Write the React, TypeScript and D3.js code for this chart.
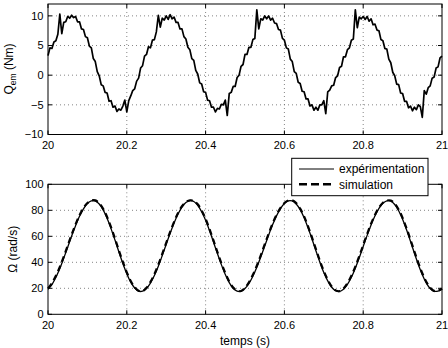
import React from 'react';
import * as d3 from 'd3';

// Sampled signals (time origin 20 s)
const T_START = 20;
const T_END = 21;

// Electromagnetic torque, measured, sampled every 5 ms
const QEM_STEP = 0.005;
const qemMeasured = [
  3.3, 4.6, 4.5, 5.6, 5.8, 6.9, 10.3, 7.0, 8.9, 9.0,
  9.9, 9.6, 10.1, 9.7, 9.9, 9.0, 9.0, 7.8, 7.7, 6.5,
  6.3, 4.9, 4.6, 2.8, 2.3, 0.6, -0.1, -1.6, -1.8, -2.9,
  -3.0, -4.4, -4.3, -5.4, -5.2, -6.1, -5.7, -5.9, -5.2, -4.2,
  -6.2, -4.3, -3.5, -2.6, -2.3, -1.0, -0.5, 1.2, 1.6, 3.2,
  3.5, 4.8, 4.6, 5.9, 6.0, 7.3, 10.1, 8.1, 9.6, 9.3,
  10.0, 9.4, 10.2, 9.5, 9.8, 8.9, 8.9, 7.8, 7.8, 6.5,
  6.1, 4.7, 4.3, 2.8, 2.5, 0.8, 0.2, -1.3, -1.5, -2.8,
  -2.9, -4.2, -4.3, -5.4, -5.4, -6.2, -5.6, -5.7, -4.9, -5.0,
  -4.2, -6.8, -3.1, -2.9, -1.9, -1.9, -0.4, 0.0, 1.5, 1.8,
  3.5, 3.5, 4.7, 4.7, 6.0, 6.2, 11.0, 7.8, 9.5, 9.3,
  10.0, 9.5, 10.0, 9.3, 9.6, 8.8, 8.7, 7.7, 7.6, 6.2,
  5.9, 4.6, 4.4, 2.7, 2.3, 0.6, 0.3, -1.2, -1.4, -2.7,
  -2.8, -4.0, -4.0, -5.2, -5.0, -5.9, -5.4, -5.9, -5.0, -5.0,
  -4.3, -6.5, -2.8, -2.5, -1.8, -1.7, -0.4, -0.1, 1.3, 1.5,
  3.1, 3.1, 4.3, 4.6, 5.9, 6.1, 11.0, 8.0, 9.8, 9.5,
  9.9, 9.4, 9.9, 9.1, 9.5, 8.5, 8.6, 7.6, 7.5, 6.0,
  5.8, 4.5, 4.4, 2.7, 2.1, 0.5, -0.1, -1.5, -1.6, -3.0,
  -3.1, -4.4, -4.4, -5.5, -5.2, -6.0, -5.4, -5.8, -5.0, -5.3,
  -7.1, -2.6, -3.2, -2.1, -1.8, -0.5, -0.3, 1.2, 1.4, 2.9,
  3.2,
];

// Rotor speed, sampled every 10 ms
const OMEGA_STEP = 0.01;
const omegaMeasured = [
  19.3, 22.9, 28.4, 35.2, 43.2, 51.6, 60.2, 68.2, 75.4, 81.1,
  85.2, 87.3, 87.2, 84.8, 80.3, 73.8, 65.9, 57.1, 47.9, 39.1,
  31.2, 24.7, 20.2, 17.8, 17.8, 19.9, 24.0, 29.8, 37.0, 45.2,
  53.8, 62.3, 70.2, 77.1, 82.5, 86.0, 87.5, 86.8, 83.9, 78.9,
  72.3, 64.3, 55.6, 46.7, 38.2, 30.6, 24.4, 20.0, 17.8, 17.8,
  19.8, 23.7, 29.3, 36.2, 44.1, 52.5, 60.9, 68.8, 75.7, 81.3,
  85.2, 87.3, 87.2, 84.9, 80.5, 74.3, 66.5, 57.9, 48.9, 40.1,
  32.2, 25.7, 20.8, 18.1, 17.6, 19.3, 23.0, 28.5, 35.5, 43.5,
  52.1, 60.7, 68.7, 75.8, 81.5, 85.4, 87.3, 87.1, 84.5, 79.7,
  73.1, 65.0, 56.2, 47.0, 38.3, 30.5, 24.2, 19.8, 17.7, 17.9,
  19.3,
];
const omegaSimulated = [
  19.9, 24.0, 29.6, 36.4, 44.4, 52.8, 61.3, 69.2, 76.2, 81.7,
  85.6, 87.5, 87.6, 85.4, 81.1, 74.8, 67.0, 58.3, 49.1, 40.3,
  32.3, 25.6, 20.8, 18.1, 17.9, 20.4, 24.9, 30.9, 38.2, 46.4,
  55.0, 63.4, 71.1, 77.9, 83.1, 86.4, 87.7, 87.2, 84.6, 79.8,
  73.4, 65.5, 56.8, 47.9, 39.4, 31.7, 25.3, 20.6, 18.1, 17.9,
  20.3, 24.6, 30.4, 37.4, 45.3, 53.7, 62.0, 69.8, 76.5, 81.9,
  85.6, 87.5, 87.6, 85.5, 81.3, 75.3, 67.6, 59.1, 50.1, 41.3,
  33.3, 26.6, 21.4, 18.4, 17.8, 19.8, 23.9, 29.6, 36.7, 44.7,
  53.3, 61.8, 69.7, 76.6, 82.1, 85.8, 87.5, 87.5, 85.2, 80.6,
  74.2, 66.2, 57.4, 48.2, 39.5, 31.6, 25.1, 20.4, 18.0, 18.1,
  19.8,
];

const timeTicks = [20, 20.2, 20.4, 20.6, 20.8, 21];
const qemTicks = [-10, -5, 0, 5, 10];
const omegaTicks = [0, 20, 40, 60, 80, 100];
const legendLabels = ['expérimentation', 'simulation'];

const W = 448;
const H = 348;
const FONT = '"Liberation Sans", Arial, Helvetica, sans-serif';
const fmt = (v: number) => d3.format('~g')(v);

const x = d3.scaleLinear().domain([T_START, T_END]).range([48, 442]);
const yQ = d3.scaleLinear().domain([-10, 12]).range([134.5, 4]);
const yW = d3.scaleLinear().domain([0, 100]).range([314.3, 184.3]);

const toPoints = (vals: number[], step: number): [number, number][] =>
  vals.map((v, i) => [T_START + i * step, v]);

function Panel({ y, yTicks }: { y: d3.ScaleLinear<number, number>; yTicks: number[] }) {
  const [x0, x1] = x.range();
  const [y0, y1] = y.range();
  const tickLen = 4;
  return (
    <g>
      {/* dotted grid */}
      {timeTicks.slice(1, -1).map((t) => (
        <line key={'gx' + t} x1={x(t)} x2={x(t)} y1={y1} y2={y0}
          stroke="#666" strokeWidth={0.8} strokeDasharray="1,3" />
      ))}
      {yTicks.filter((v) => y(v) > y1 + 1 && y(v) < y0 - 1).map((v) => (
        <line key={'gy' + v} x1={x0} x2={x1} y1={y(v)} y2={y(v)}
          stroke="#666" strokeWidth={0.8} strokeDasharray="1,3" />
      ))}
      {/* tick marks, inward on all four sides */}
      {timeTicks.map((t) => (
        <g key={'tx' + t}>
          <line x1={x(t)} x2={x(t)} y1={y0} y2={y0 - tickLen} stroke="#000" />
          <line x1={x(t)} x2={x(t)} y1={y1} y2={y1 + tickLen} stroke="#000" />
        </g>
      ))}
      {yTicks.map((v) => (
        <g key={'ty' + v}>
          <line x1={x0} x2={x0 + tickLen} y1={y(v)} y2={y(v)} stroke="#000" />
          <line x1={x1} x2={x1 - tickLen} y1={y(v)} y2={y(v)} stroke="#000" />
        </g>
      ))}
      {/* tick labels */}
      {timeTicks.map((t) => (
        <text key={'lx' + t} x={x(t)} y={y0 + 14.5} textAnchor="middle"
          fontSize={11} fontFamily={FONT} fill="#000">{fmt(t)}</text>
      ))}
      {yTicks.map((v) => (
        <text key={'ly' + v} x={x0 - 4.5} y={y(v)} dy="0.35em" textAnchor="end"
          fontSize={11} fontFamily={FONT} fill="#000">{fmt(v)}</text>
      ))}
    </g>
  );
}

function Frame({ y }: { y: d3.ScaleLinear<number, number> }) {
  const [x0, x1] = x.range();
  const [y0, y1] = y.range();
  return <rect x={x0} y={y1} width={x1 - x0} height={y0 - y1} fill="none" stroke="#000" strokeWidth={1} />;
}

export default function App() {
  const lineQ = d3.line<[number, number]>().x((d) => x(d[0])).y((d) => yQ(d[1]));
  const lineW = d3.line<[number, number]>().x((d) => x(d[0])).y((d) => yW(d[1])).curve(d3.curveCatmullRom);

  const legendX = 291.7;
  const legendY = 158.3;

  return (
    <svg width={W} height={H} viewBox={`0 0 ${W} ${H}`}
      style={{ position: 'absolute', left: 0, top: 0, background: '#fff' }}>
      <rect x={0} y={0} width={W} height={H} fill="#fff" />

      {/* upper panel: torque */}
      <Panel y={yQ} yTicks={qemTicks} />
      <path d={lineQ(toPoints(qemMeasured, QEM_STEP)) || ''} fill="none" stroke="#000"
        strokeWidth={1.7} strokeLinejoin="round" />
      <Frame y={yQ} />
      <text transform="translate(12.5,69) rotate(-90)" textAnchor="middle"
        fontSize={12} fontFamily={FONT} fill="#000">
        Q<tspan fontSize={8.5} dy={3}>em</tspan><tspan dy={-3}> (Nm)</tspan>
      </text>

      {/* lower panel: speed */}
      <Panel y={yW} yTicks={omegaTicks} />
      <path d={lineW(toPoints(omegaSimulated, OMEGA_STEP)) || ''} fill="none" stroke="#000"
        strokeWidth={2.2} strokeDasharray="6,4" />
      <path d={lineW(toPoints(omegaMeasured, OMEGA_STEP)) || ''} fill="none" stroke="#000"
        strokeWidth={1.3} />
      <Frame y={yW} />
      <text transform="translate(16.5,249.3) rotate(-90)" textAnchor="middle"
        fontSize={12} fontFamily={FONT} fill="#000">Ω (rad/s)</text>
      <text x={245} y={345} textAnchor="middle" fontSize={12} fontFamily={FONT} fill="#000">temps (s)</text>

      {/* legend */}
      <g>
        <rect x={legendX} y={legendY} width={136.3} height={37.4} fill="#fff" stroke="#000" strokeWidth={1} />
        <line x1={299} x2={334} y1={169} y2={169} stroke="#000" strokeWidth={1} />
        <line x1={299} x2={334} y1={184.3} y2={184.3} stroke="#000" strokeWidth={2.6} strokeDasharray="8,4" />
        <text x={339} y={173.2} fontSize={12} fontFamily={FONT} fill="#000">{legendLabels[0]}</text>
        <text x={339} y={188.6} fontSize={12} fontFamily={FONT} fill="#000">{legendLabels[1]}</text>
      </g>
    </svg>
  );
}
